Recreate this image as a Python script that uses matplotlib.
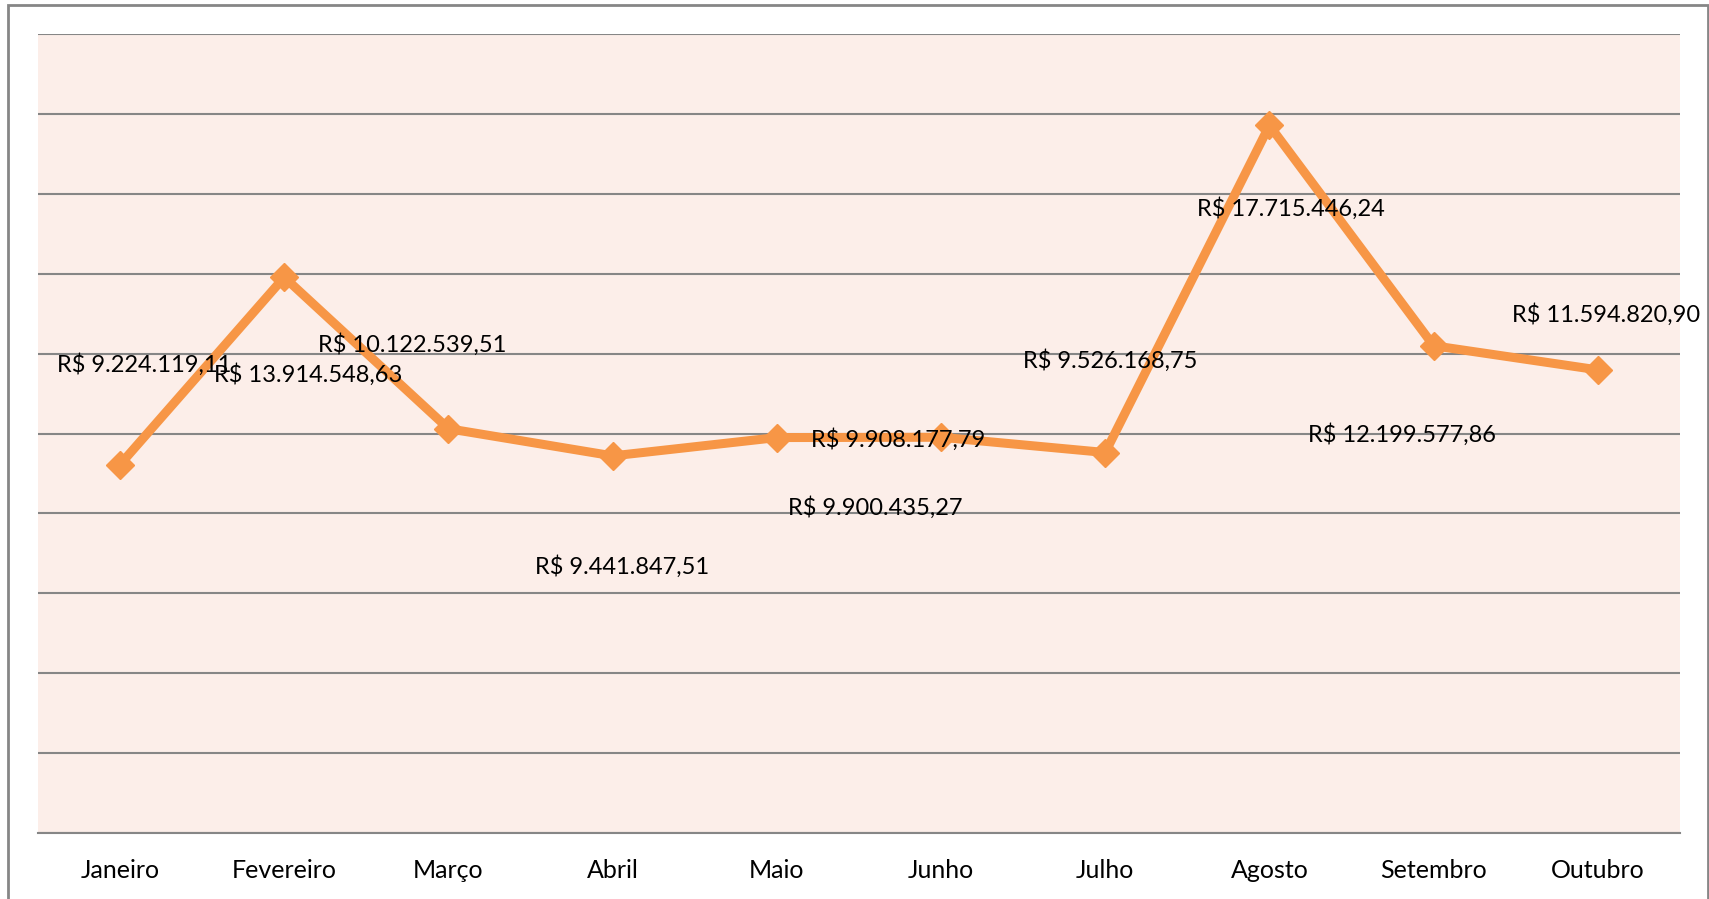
import matplotlib
matplotlib.use('Agg')
import matplotlib.pyplot as plt
from matplotlib.patches import Rectangle

plt.rcParams['font.family'] = ['Lato', 'DejaVu Sans']

# monthly totals
meses = ['Janeiro', 'Fevereiro', 'Março', 'Abril', 'Maio', 'Junho',
         'Julho', 'Agosto', 'Setembro', 'Outubro']
valores = [9224119.11, 13914548.63, 10122539.51, 9441847.51, 9900435.27,
           9908177.79, 9526168.75, 17715446.24, 12199577.86, 11594820.90]

# label offsets (pixels) - the labels sit wherever the original put them
offsets = [(24, 100), (24, -97), (-36, 84), (9, -111), (98, -70),
           (-43, -2), (5, 92), (21, -83), (-32, -89), (8, 55)]


def brl(v):
    s = f'{v:,.2f}'.replace(',', 'X').replace('.', ',').replace('X', '.')
    return 'R$ ' + s


fig = plt.figure(figsize=(17.09, 8.99), dpi=100)
ax = fig.add_axes([0.0222, 0.0734, 0.9608, 0.8886])
ax.set_facecolor('#FCEEE9')

x = list(range(len(meses)))
ax.plot(x, valores, color='#F79646', lw=6.5, marker='D', markersize=14,
        solid_joinstyle='miter', zorder=3)

for xi, v, (dx, dy) in zip(x, valores, offsets):
    ax.annotate(brl(v), (xi, v), xytext=(dx, dy), textcoords='offset pixels',
                ha='center', va='center', fontsize=17, color='black', zorder=4)

ax.set_xlim(-0.5, len(meses) - 0.5)
ax.set_ylim(0, 20000000)
ax.set_yticks(range(0, 20000001, 2000000))
ax.yaxis.grid(True, color='#868686', lw=1.5)
ax.set_axisbelow(True)
ax.set_yticklabels([])
ax.tick_params(axis='y', length=0)
ax.set_xticks(x)
ax.set_xticklabels(meses, fontsize=18)
ax.tick_params(axis='x', length=0, pad=19)
for side in ['top', 'left', 'right']:
    ax.spines[side].set_visible(False)
ax.spines['bottom'].set_color('#868686')
ax.spines['bottom'].set_linewidth(1.5)

fig.add_artist(Rectangle((8 / 1709, -0.01), 1700 / 1709, 1 - 5 / 899 + 0.01,
                         transform=fig.transFigure, fill=False,
                         edgecolor='#868686', lw=2))

fig.savefig('out.png', dpi=100)
